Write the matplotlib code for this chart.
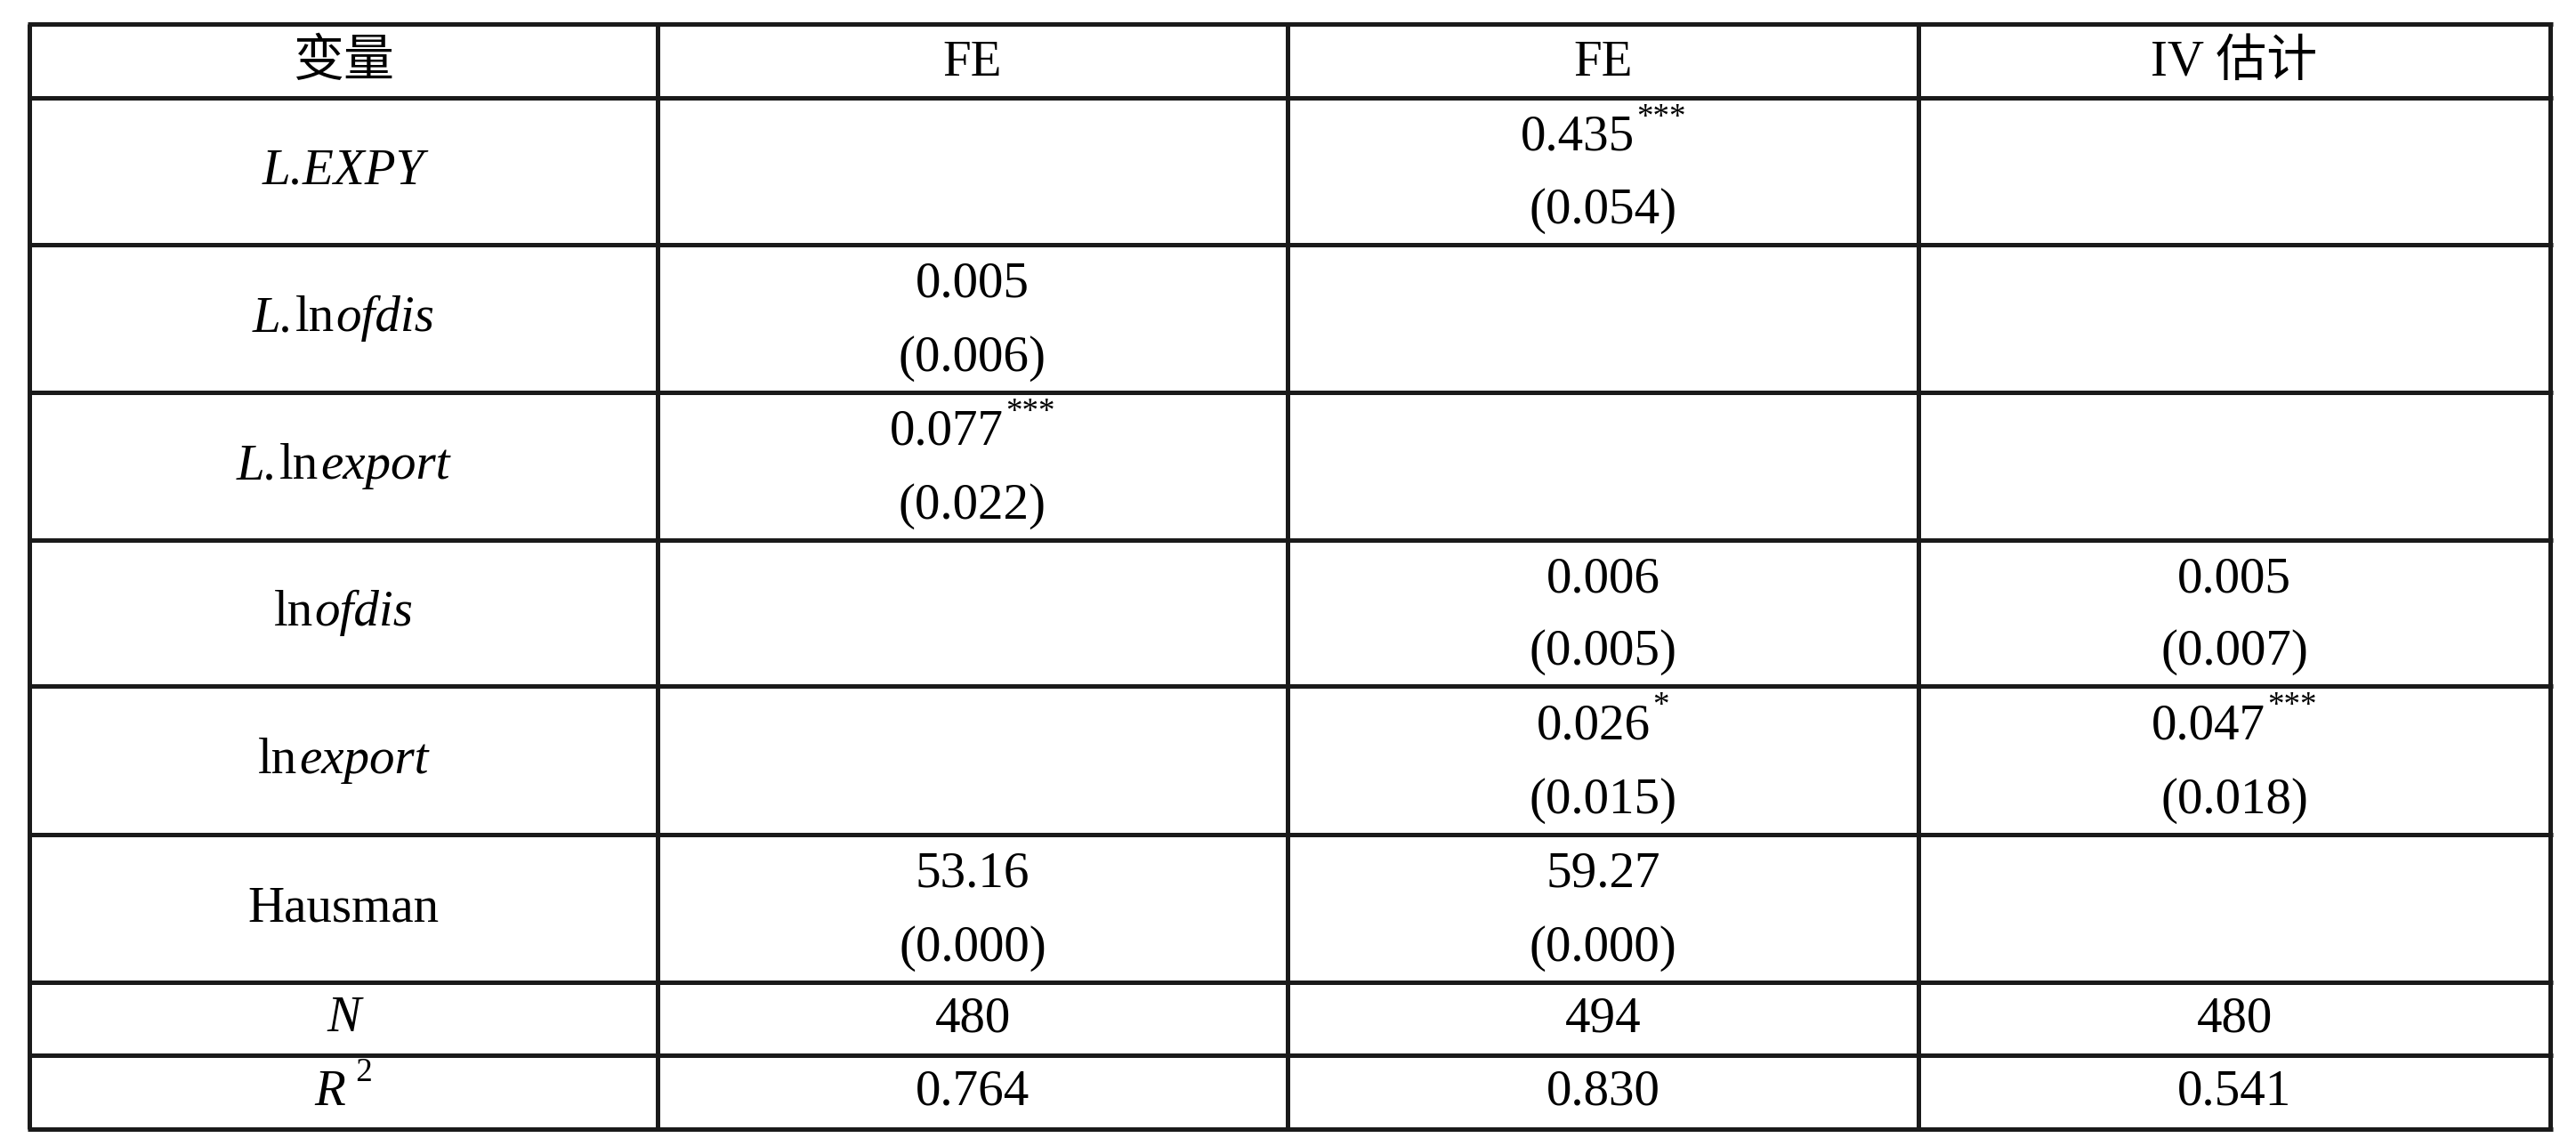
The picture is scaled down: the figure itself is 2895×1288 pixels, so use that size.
import matplotlib
matplotlib.use("Agg")
import matplotlib.pyplot as plt

plt.rcParams['font.family'] = ['Liberation Serif', 'Noto Sans CJK SC']

# table content
headers = ["变量", "FE", "FE", "IV 估计"]
# row labels as (text, style) pieces: 'i' italic, 'n' normal, 's' superscript
row_labels = [
    [("L.EXPY", 'i')],
    [("L.", 'i'), ("ln", 'n'), ("ofdis", 'i')],
    [("L.", 'i'), ("ln", 'n'), ("export", 'i')],
    [("ln", 'n'), ("ofdis", 'i')],
    [("ln", 'n'), ("export", 'i')],
    [("Hausman", 'n')],
    [("N", 'i')],
    [("R", 'i'), (" 2", 's')],
]
fe1_coef = ["", "0.005", "0.077", "", "", "53.16"]
fe1_stars = ["", "", "***", "", "", ""]
fe1_se = ["", "(0.006)", "(0.022)", "", "", "(0.000)"]
fe2_coef = ["0.435", "", "", "0.006", "0.026", "59.27"]
fe2_stars = ["***", "", "", "", "*", ""]
fe2_se = ["(0.054)", "", "", "(0.005)", "(0.015)", "(0.000)"]
iv_coef = ["", "", "", "0.005", "0.047", ""]
iv_stars = ["", "", "", "", "***", ""]
iv_se = ["", "", "", "(0.007)", "(0.018)", ""]
n_obs = ["480", "494", "480"]
r2 = ["0.764", "0.830", "0.541"]

# layout in pixels
W, H = 2895, 1288
col_x = [33, 739, 1447, 2156, 2866]
row_y = [27, 110, 275, 441, 607, 771, 938, 1104, 1186, 1269]
FS = 41
LC = '#1a1a1a'

fig = plt.figure(figsize=(W / 100, H / 100), dpi=100)
ax = fig.add_axes([0, 0, 1, 1])
ax.set_xlim(0, W)
ax.set_ylim(H, 0)
ax.axis('off')

ax.hlines(row_y, col_x[0] - 2.5, col_x[-1] + 2.5, colors=LC, linewidth=3.6)
ax.vlines(col_x, row_y[0], row_y[-1], colors=LC, linewidth=3.6)

renderer = fig.canvas.get_renderer()


def put_pieces(cx, y, pieces):
    # draw text pieces side by side, the whole run centred on cx
    texts = []
    for s, style in pieces:
        if style == 's':
            t = ax.text(cx, y - 22, s, ha='left', va='center', fontsize=FS * 0.65)
        else:
            t = ax.text(cx, y, s, ha='left', va='center', fontsize=FS,
                        style='italic' if style == 'i' else 'normal')
        texts.append(t)
    widths = [t.get_window_extent(renderer).width for t in texts]
    x = cx - (sum(widths) + 2 * (len(texts) - 1)) / 2
    for t, w in zip(texts, widths):
        t.set_x(x)
        x += w + 2


centers = [(col_x[i] + col_x[i + 1]) / 2 for i in range(4)]

for i, h in enumerate(headers):
    ax.text(centers[i], (row_y[0] + row_y[1]) / 2 + 2, h, ha='center', va='center', fontsize=FS)

for r, lab in enumerate(row_labels):
    top, bot = row_y[r + 1], row_y[r + 2]
    put_pieces(centers[0], (top + bot) / 2, lab)

cols = [(fe1_coef, fe1_stars, fe1_se), (fe2_coef, fe2_stars, fe2_se), (iv_coef, iv_stars, iv_se)]
for c, (coef, stars, se) in enumerate(cols):
    cx = centers[c + 1]
    for r in range(len(coef)):
        top, bot = row_y[r + 1], row_y[r + 2]
        hgt = bot - top
        if coef[r]:
            pieces = [(coef[r], 'n')]
            if stars[r]:
                pieces.append((stars[r], 's'))
            put_pieces(cx, top + 0.27 * hgt, pieces)
        if se[r]:
            ax.text(cx, top + 0.77 * hgt, se[r], ha='center', va='center', fontsize=FS)
    top, bot = row_y[7], row_y[8]
    ax.text(cx, (top + bot) / 2, n_obs[c], ha='center', va='center', fontsize=FS)
    top, bot = row_y[8], row_y[9]
    ax.text(cx, (top + bot) / 2, r2[c], ha='center', va='center', fontsize=FS)

fig.savefig("out.png", dpi=100)
